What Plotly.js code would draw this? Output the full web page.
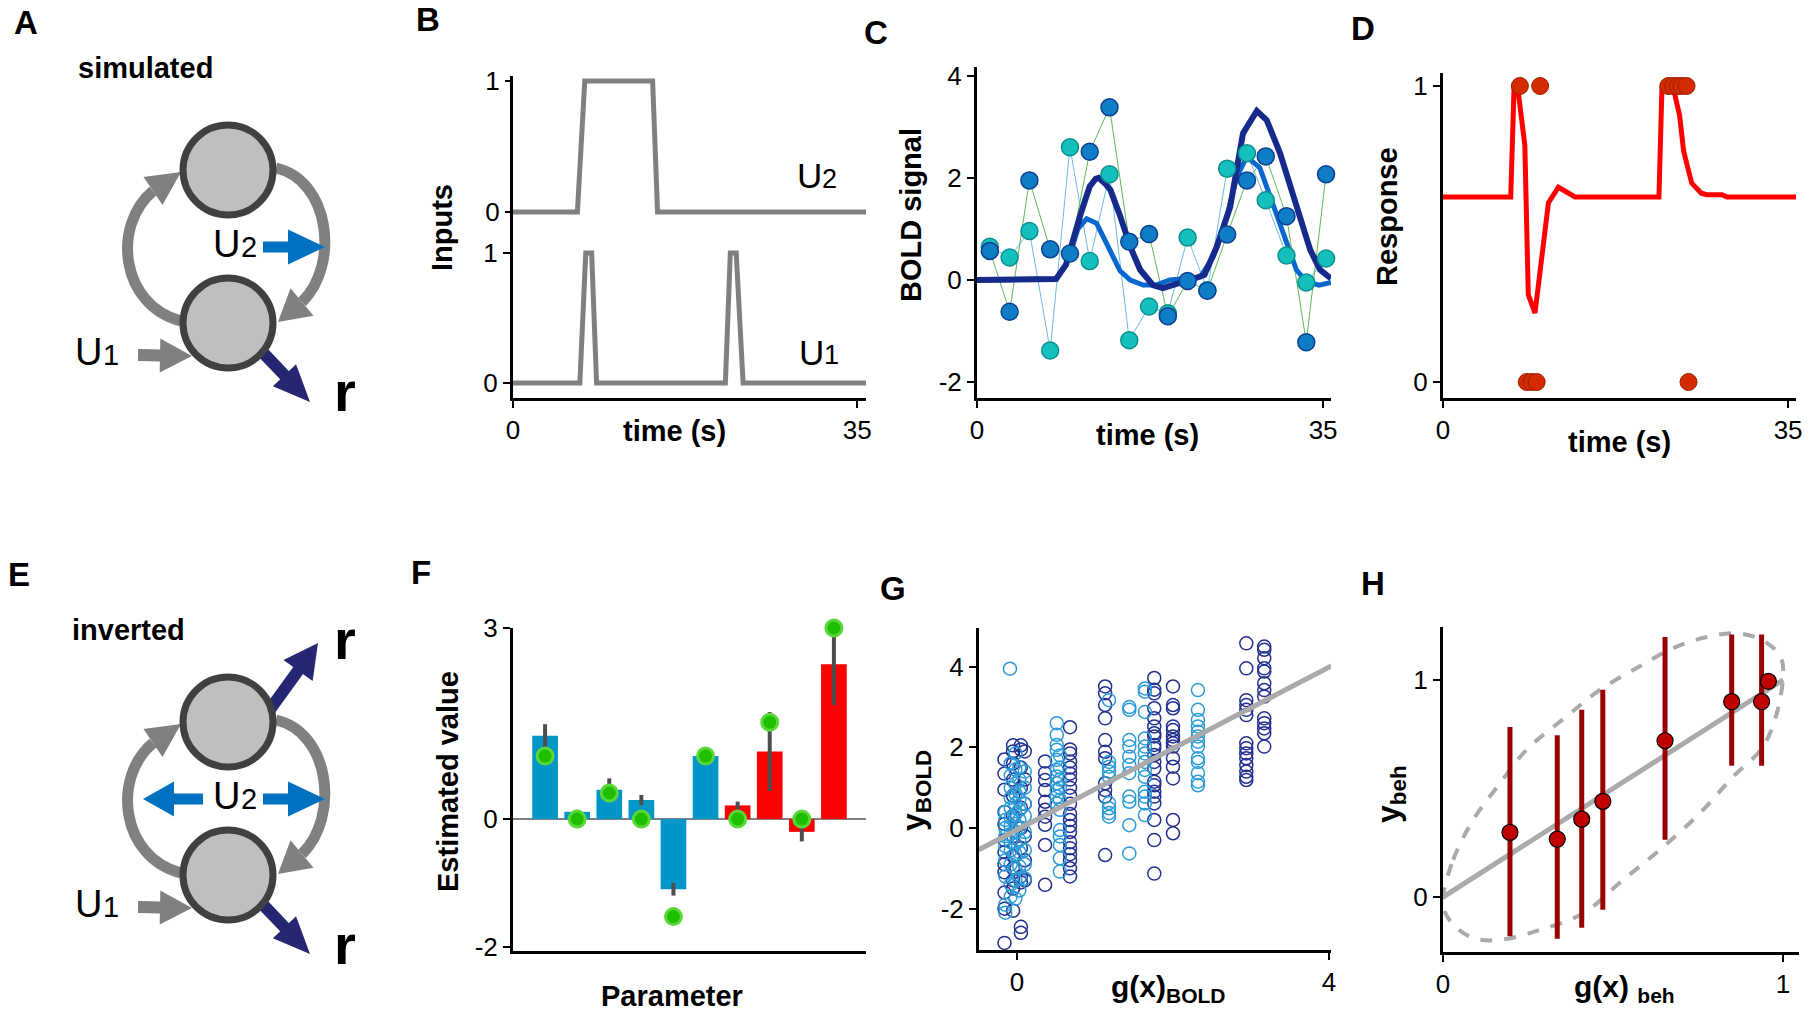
<!DOCTYPE html>
<html><head><meta charset="utf-8">
<script src="https://cdn.plot.ly/plotly-3.0.1.min.js"></script>
<style>html,body{margin:0;padding:0;background:#fff;}#chart{width:1814px;height:1011px;}</style>
</head><body><div id="chart"></div>
<script>
// ---------- DATA ----------
// Panel B: inputs
const bU2Time = [0, 6.55, 7.3, 14.2, 14.7, 35.9];
const bU2 = [0, 0, 1, 1, 0, 0];
const bU1Time = [0, 6.8, 7.4, 8.0, 8.5, 21.6, 22.1, 22.7, 23.4, 35.9];
const bU1 = [0, 0, 1, 1, 0, 0, 1, 1, 0, 0];

// Panel C: BOLD signal
const cTime = [1.3, 3.3, 5.3, 7.4, 9.4, 11.4, 13.4, 15.4, 17.4, 19.3, 21.3, 23.3, 25.3, 27.3, 29.2, 31.3, 33.3, 35.3];
const cTeal = [0.65, 0.44, 0.96, -1.38, 2.6, 0.37, 2.07, -1.18, -0.52, -0.65, 0.83, -0.2, 2.18, 2.48, 1.56, 0.48, -0.05, 0.42];
const cBlue = [0.57, -0.62, 1.95, 0.6, 0.52, 2.51, 3.38, 0.75, 0.9, -0.71, -0.02, -0.21, 0.89, 1.95, 2.42, 1.25, -1.22, 2.07];
const cNavyT = [0, 8, 9, 9.4, 10, 10.4, 11, 11.4, 12, 12.3, 13, 13.5, 14.5, 15.5, 16.5, 17.8, 18.8, 20, 21, 22, 23, 24.25, 25.6, 26.9, 28.3, 29.3, 30.65, 31.66, 32.67, 33.7, 34.7, 35.8];
const cNavyY = [0, 0.02, 0.3, 0.59, 1.0, 1.24, 1.6, 1.83, 1.98, 2.0, 1.88, 1.76, 1.24, 0.65, 0.2, -0.1, -0.16, -0.1, -0.02, 0.03, 0.1, 0.65, 1.43, 2.87, 3.31, 3.13, 2.48, 1.83, 1.18, 0.59, 0.2, 0.03];
const cLightT = [0, 8, 9, 9.4, 10.2, 11.1, 12.1, 13, 13.45, 14.46, 15.5, 16.8, 18.1, 19.5, 21.2, 22.6, 23.9, 25.26, 26.27, 27.28, 28.6, 29.3, 30.3, 31.3, 32.3, 33.3, 34.6, 35.8];
const cLightY = [0, 0.02, 0.3, 0.5, 1.0, 1.2, 1.11, 0.75, 0.54, 0.18, 0.0, -0.1, -0.1, 0.0, 0.03, 0.06, 0.46, 1.24, 2.02, 2.41, 2.2, 1.83, 1.24, 0.72, 0.2, -0.03, -0.1, -0.05];

// Panel D: behavioural response
const dLineT = [0, 6.87, 7.2, 7.6, 8.3, 8.65, 9.33, 10.69, 11.7, 13.39, 21.9, 22.2, 23.4, 24.0, 24.4, 25.22, 26.2, 26.74, 28.3, 28.8, 35.8];
const dLineY = [0.625, 0.625, 0.988, 0.988, 0.80, 0.295, 0.233, 0.605, 0.658, 0.625, 0.625, 0.988, 0.988, 0.90, 0.78, 0.672, 0.638, 0.633, 0.633, 0.625, 0.625];
const dRespT = [7.8, 9.85, 8.5, 9.0, 9.5, 22.85, 23.35, 23.8, 24.2, 24.7, 24.9];
const dRespY = [1, 1, 0, 0, 0, 1, 1, 1, 1, 1, 0];

// Panel F: parameter estimates
const fParam = [1, 2, 3, 4, 5, 6, 7, 8, 9, 10];
const fEst = [1.31, 0.115, 0.46, 0.30, -1.10, 0.99, 0.215, 1.06, -0.20, 2.43];
const fErr = [0.18, 0.03, 0.18, 0.08, 0.10, 0.02, 0.06, 0.62, 0.15, 0.64];
const fTrue = [0.99, 0, 0.41, 0, -1.53, 0.99, 0, 1.52, 0, 3.0];
const fNumBold = 6; // first six parameters belong to the BOLD model

// Panel G: BOLD predicted vs observed (columns of points)
const gNavyColX = [-0.16, -0.05, 0.05, 0.1, 0.36, 0.68, 1.13, 1.76, 2.0, 2.94, 3.17];
const gNavyColY = [
  [1.7, 1.35, 0.95, 0.4, 0.1, -0.3, -0.6, -0.9, -1.1, -1.6, -2.0, -2.85],
  [2.05, 1.9, 1.6, 1.2, 0.8, 0.3, -0.2, -0.7, -1.0, -1.3, -1.5, -2.05],
  [2.05, 1.95, 1.5, 1.0, 0.5, 0.0, -0.5, -1.2, -1.35, -2.45, -2.6],
  [1.9, 1.2, 0.6, -0.2, -0.8, -1.3],
  [1.65, 1.36, 1.19, 0.94, 0.65, 0.45, 0.28, 0.08, -0.42, -1.41],
  [2.5, 1.95, 1.85, 1.65, 1.5, 1.35, 1.2, 1.0, 0.8, 0.6, 0.35, 0.2, 0.05, -0.1, -0.35, -0.5, -0.65, -0.8, -1.0, -1.2],
  [3.51, 3.34, 3.05, 2.72, 2.18, 1.89, 1.73, 1.11, 0.94, 0.78, -0.67],
  [3.72, 3.43, 3.34, 2.97, 2.72, 2.52, 2.35, 2.27, 2.06, 1.98, 1.81, 1.64, 1.48, 1.15, 1.06, 0.90, 0.78, 0.61, 0.20, -0.30, -1.13],
  [3.51, 3.05, 2.97, 2.52, 2.43, 2.27, 2.18, 2.10, 2.02, 1.73, 1.52, 1.23, 0.20, -0.13],
  [4.58, 3.96, 3.17, 3.05, 2.93, 2.80, 2.10, 1.98, 1.85, 1.73, 1.56, 1.40, 1.27, 1.19],
  [4.50, 4.42, 4.21, 3.96, 3.88, 3.59, 3.42, 3.26, 2.72, 2.60, 2.47, 2.35, 2.02]
];
const gLightColX = [-0.15, -0.08, -0.02, 0.03, 0.1, -0.09, 0.51, 0.55, 1.18, 1.44, 1.64, 2.32];
const gLightColY = [
  [0.4, 0.2, 0.0, -0.2, -0.45, -0.8, -1.2, -1.9, -2.1],
  [1.6, 1.3, 1.0, 0.75, 0.5, 0.25, 0.05, -0.15, -0.35, -0.55, -0.9, -1.4, -1.7],
  [1.85, 1.45, 1.1, 0.85, 0.6, 0.35, 0.1, -0.1, -0.4, -0.65, -1.0, -1.3, -1.75],
  [1.5, 1.2, 0.9, 0.7, 0.45, 0.2, 0.0, -0.3, -0.6, -0.95, -1.25, -1.55],
  [1.4, 1.0, 0.6, 0.3, -0.1, -0.55, -0.9, -1.25],
  [3.95],
  [2.6, 2.31, 2.06, 1.94, 1.69, 1.44, 1.28, 1.11, 0.94, 0.78, 0.61],
  [1.8, 1.5, 1.2, 1.0, 0.7, 0.45, -0.05, -0.21, -0.42, -0.75, -1.08],
  [3.17, 1.64, 1.52, 1.40, 1.27, 0.62, 0.49, 0.37, 0.28],
  [3.0, 2.93, 2.18, 2.02, 1.77, 1.56, 1.36, 0.78, 0.65, 0.07, -0.63],
  [3.46, 3.38, 2.88, 2.22, 2.02, 1.85, 1.64, 1.44, 1.27, 0.90, 0.78, 0.61, 0.32],
  [3.42, 2.93, 2.68, 2.52, 2.39, 2.27, 2.14, 2.02, 1.73, 1.64, 1.36, 1.15, 1.06]
];
const gFitX = [-0.49, 4.03];
const gFitY = [-0.54, 4.02];

// Panel H: behaviour predicted vs observed
const hG = [0.197, 0.336, 0.408, 0.47, 0.653, 0.849, 0.937, 0.957];
const hY = [0.298, 0.267, 0.359, 0.441, 0.72, 0.9, 0.9, 0.994];
const hErrUp = [0.485, 0.478, 0.504, 0.514, 0.478, 0.31, 0.31, 0];
const hErrDown = [0.479, 0.459, 0.5, 0.499, 0.456, 0.295, 0.295, 0];
const hFitX = [0, 1];
const hFitY = [0, 1];
const hEllX = [0.0, 0.030, 0.089, 0.168, 0.246, 0.364, 0.462, 0.579, 0.677, 0.776, 0.874, 0.952, 0.996, 0.991, 0.942, 0.854, 0.756, 0.638, 0.530, 0.413, 0.285, 0.168, 0.089, 0.030, 0.003, 0.0];
const hEllY = [0.0, 0.172, 0.356, 0.525, 0.679, 0.833, 0.955, 1.063, 1.147, 1.198, 1.214, 1.171, 1.094, 0.909, 0.694, 0.556, 0.387, 0.218, 0.080, -0.074, -0.151, -0.197, -0.189, -0.127, -0.058, 0.0];

// tick labels (hyphen minus as in the original)
const tickB = ['0', '1'];
const tickTime = ['0', '35'];
const tickC = ['-2', '0', '2', '4'];
const tickF = ['-2', '0', '3'];
const tickG = ['-2', '0', '2', '4'];
const tickGx = ['0', '4'];
const tickUnit = ['0', '1'];

// ---------- LAYOUT HELPERS ----------
const W = 1814, H = 1011;
const FONT = 'Liberation Sans, Arial, Helvetica, sans-serif';
const PX = v => v / W, PY = v => 1 - v / H;
const xd = (a, b) => [PX(a), PX(b)];
const yd = (top, bottom) => [PY(bottom), PY(top)];

const axBase = {
  showline: true, linecolor: '#000', linewidth: 3, mirror: false,
  ticks: 'outside', ticklen: 7, tickwidth: 2, tickcolor: '#000',
  showgrid: false, zeroline: false, fixedrange: true,
  tickfont: {family: FONT, size: 26, color: '#000'}
};
const mk = o => Object.assign({}, axBase, o);

// expand columns
function expand(colX, colY) {
  const xs = [], ys = [];
  colX.forEach((x, i) => colY[i].forEach(y => { xs.push(x); ys.push(y); }));
  return [xs, ys];
}
const [gNavyX, gNavyY] = expand(gNavyColX, gNavyColY);
const [gLightX, gLightY] = expand(gLightColX, gLightColY);

// ---------- TRACES ----------
const GRAY = '#808080';
const traces = [
  // B
  {x: bU2Time, y: bU2, xaxis: 'x', yaxis: 'y2', mode: 'lines', line: {color: GRAY, width: 5}},
  {x: bU1Time, y: bU1, xaxis: 'x', yaxis: 'y', mode: 'lines', line: {color: GRAY, width: 5}},
  // C
  {x: cTime, y: cTeal, xaxis: 'x2', yaxis: 'y3', mode: 'lines', line: {color: '#6db9e8', width: 1}},
  {x: cTime, y: cBlue, xaxis: 'x2', yaxis: 'y3', mode: 'lines', line: {color: '#5fb85a', width: 1}},
  {x: cLightT, y: cLightY, xaxis: 'x2', yaxis: 'y3', mode: 'lines', line: {color: '#0767cf', width: 5}},
  {x: cNavyT, y: cNavyY, xaxis: 'x2', yaxis: 'y3', mode: 'lines', line: {color: '#162a8c', width: 6}},
  {x: cTime, y: cTeal, xaxis: 'x2', yaxis: 'y3', mode: 'markers', cliponaxis: false,
   marker: {size: 17, color: '#14c0bd', line: {color: '#0c8f8c', width: 1.5}}},
  {x: cTime, y: cBlue, xaxis: 'x2', yaxis: 'y3', mode: 'markers', cliponaxis: false,
   marker: {size: 17, color: '#0f7cc6', line: {color: '#0b3f90', width: 1.5}}},
  // D
  {x: dLineT, y: dLineY, xaxis: 'x3', yaxis: 'y4', mode: 'lines', line: {color: '#ff0000', width: 5}},
  {x: dRespT, y: dRespY, xaxis: 'x3', yaxis: 'y4', mode: 'markers', cliponaxis: false,
   marker: {size: 17, color: '#d42a00', line: {color: '#9a2000', width: 1}}},
  // F
  {type: 'bar', x: fParam.slice(0, fNumBold), y: fEst.slice(0, fNumBold), xaxis: 'x4', yaxis: 'y5', width: 0.8,
   marker: {color: '#0096c8', line: {width: 0}},
   error_y: {type: 'data', array: fErr.slice(0, fNumBold), color: '#4d4d4d', thickness: 4, width: 0}},
  {type: 'bar', x: fParam.slice(fNumBold), y: fEst.slice(fNumBold), xaxis: 'x4', yaxis: 'y5', width: 0.8,
   marker: {color: '#ff0000', line: {width: 0}},
   error_y: {type: 'data', array: fErr.slice(fNumBold), color: '#4d4d4d', thickness: 4, width: 0}},
  {x: fParam, y: fTrue, xaxis: 'x4', yaxis: 'y5', mode: 'markers', cliponaxis: false,
   marker: {size: 16, color: '#1fbf00', line: {color: '#5ad83a', width: 3}}},
  // G
  {x: gNavyX, y: gNavyY, xaxis: 'x5', yaxis: 'y6', mode: 'markers', cliponaxis: false,
   marker: {symbol: 'circle-open', size: 13, color: '#22308f', line: {width: 1.5}}},
  {x: gLightX, y: gLightY, xaxis: 'x5', yaxis: 'y6', mode: 'markers', cliponaxis: false,
   marker: {symbol: 'circle-open', size: 13, color: '#2b9bd8', line: {width: 1.5}}},
  {x: gFitX, y: gFitY, xaxis: 'x5', yaxis: 'y6', mode: 'lines', line: {color: '#aaaaaa', width: 5}},
  // H
  {x: hEllX, y: hEllY, xaxis: 'x6', yaxis: 'y7', mode: 'lines', line: {color: '#aaaaaa', width: 4, dash: 'dash', shape: 'spline', smoothing: 1}},
  {x: hFitX, y: hFitY, xaxis: 'x6', yaxis: 'y7', mode: 'lines', line: {color: '#aaaaaa', width: 5}},
  {x: hG, y: hY, xaxis: 'x6', yaxis: 'y7', mode: 'markers', cliponaxis: false,
   marker: {size: 16, color: '#c00000', line: {color: '#000', width: 1.2}},
   error_y: {type: 'data', symmetric: false, array: hErrUp, arrayminus: hErrDown, color: '#990000', thickness: 5, width: 0}}
];
traces.forEach(t => { t.hoverinfo = 'skip'; t.showlegend = false; });

// ---------- DIAGRAM SHAPES (panels A, E) ----------
function conv(s) {
  return s.replace(/(-?\d+\.?\d*),(-?\d+\.?\d*)/g, (m, a, b) => PX(+a) + ',' + PY(+b));
}
function pathShape(d, color, width) {
  return {type: 'path', xref: 'paper', yref: 'paper', path: conv(d), line: {color, width}, fillcolor: 'rgba(0,0,0,0)'};
}
function tri(tx, ty, bx, by, hw, color) {
  const dx = tx - bx, dy = ty - by, L = Math.hypot(dx, dy);
  const nx = -dy / L, ny = dx / L;
  const d = `M${tx},${ty} L${bx + nx * hw},${by + ny * hw} L${bx - nx * hw},${by - ny * hw} Z`;
  return {type: 'path', xref: 'paper', yref: 'paper', path: conv(d), line: {width: 0}, fillcolor: color};
}
function arrow(sx, sy, tx, ty, hl, hw, sw, color) {
  const dx = tx - sx, dy = ty - sy, L = Math.hypot(dx, dy);
  const ux = dx / L, uy = dy / L;
  const bx = tx - ux * hl, by = ty - uy * hl;
  return [
    {type: 'line', xref: 'paper', yref: 'paper', x0: PX(sx), y0: PY(sy), x1: PX(bx + ux * 2), y1: PY(by + uy * 2), line: {color, width: sw}},
    tri(tx, ty, bx, by, hw, color)
  ];
}
function circle(cx, cy, r) {
  return {type: 'circle', xref: 'paper', yref: 'paper', x0: PX(cx - r), x1: PX(cx + r), y0: PY(cy + r), y1: PY(cy - r),
          fillcolor: '#bfbfbf', line: {color: '#404040', width: 7}};
}
const BLUE = '#0070c0', NAVY = '#262673';
function diagram(dy, inverted) {
  let s = [];
  s.push(pathShape(`M181,${321 + dy} C120,${305 + dy} 112,${225 + dy} 153,${191 + dy}`, GRAY, 11));
  s.push(tri(181, 172 + dy, 153, 191 + dy, 17, GRAY));
  s.push(pathShape(`M276,${168 + dy} C330,${180 + dy} 340,${265 + dy} 302,${302 + dy}`, GRAY, 11));
  s.push(tri(278, 322 + dy, 302, 302 + dy, 18, GRAY));
  s = s.concat(arrow(138, 355 + dy, 192, 356 + dy, 32, 17, 12, GRAY));
  s = s.concat(arrow(263, 247 + dy, 325, 247 + dy, 37, 17.5, 11, BLUE));
  if (inverted) {
    s = s.concat(arrow(203, 247 + dy, 143, 247 + dy, 31, 17.5, 11, BLUE));
    s = s.concat(arrow(250, 185 + dy, 318, 91 + dy, 34, 18, 12, NAVY));
  }
  s = s.concat(arrow(250, 339 + dy, 310, 402 + dy, 37, 16, 12, NAVY));
  s.push(circle(228, 170 + dy, 45));
  s.push(circle(228, 323 + dy, 45));
  return s;
}
const shapes = diagram(0, false).concat(diagram(552, true));

// ---------- ANNOTATIONS ----------
function txt(x, y, text, size, extra, bold) {
  return Object.assign({xref: 'paper', yref: 'paper', x: PX(x), y: PY(y), xanchor: 'center', yanchor: 'middle',
    text, showarrow: false, font: {family: FONT, size, color: '#000', weight: bold ? 'bold' : 'normal'}}, extra || {});
}
const btxt = (x, y, text, size, extra) => txt(x, y, text, size, extra, true);
// "U" with a smaller digit sharing its baseline, as two separate texts
function ulabel(cx, cy, digit, big, small) {
  const total = 0.722 * big + 0.556 * small;
  const left = cx - total / 2;
  const base = cy + 0.3465 * big;
  return [
    txt(left + 0.361 * big, cy, 'U', big),
    txt(left + 0.722 * big + 0.278 * small, base - 0.3465 * small, String(digit), small)
  ];
}
const annotations = [
  // panel letters
  btxt(26, 22, 'A', 33), btxt(428, 20, 'B', 33), btxt(876, 32, 'C', 33), btxt(1363, 28, 'D', 33),
  btxt(19, 574, 'E', 33), btxt(421, 572, 'F', 33), btxt(893, 588, 'G', 33), btxt(1373, 583, 'H', 33),
  // A
  btxt(145, 68, 'simulated', 29),
  ...ulabel(235, 244, 2, 38, 29), ...ulabel(97, 352, 1, 38, 29),
  btxt(345, 391, 'r', 56),
  // E
  btxt(128, 630, 'inverted', 29),
  ...ulabel(235, 796, 2, 38, 29), ...ulabel(97, 904, 1, 38, 29),
  btxt(345, 639, 'r', 56), btxt(345, 944, 'r', 56),
  // B
  ...ulabel(817, 176, 2, 35, 27), ...ulabel(819, 352, 1, 35, 27),
  btxt(442, 228, 'Inputs', 29, {textangle: -90}),
  btxt(674, 431, 'time (s)', 29),
  // C
  btxt(911, 215, 'BOLD signal', 29, {textangle: -90}),
  btxt(1147, 435, 'time (s)', 29),
  // D
  btxt(1387, 217, 'Response', 29, {textangle: -90}),
  btxt(1619, 442, 'time (s)', 29),
  // F
  btxt(448, 782, 'Estimated value', 29, {textangle: -90}),
  btxt(672, 996, 'Parameter', 29),
  // G
  btxt(915, 790, 'y<sub>BOLD</sub>', 32, {textangle: -90}),
  btxt(1168, 988, 'g(x)<sub>BOLD</sub>', 30),
  // H
  btxt(1390, 794, 'y<sub>beh</sub>', 32, {textangle: -90}),
  btxt(1624, 988, 'g(x) <sub>beh</sub>', 30)
];

// ---------- LAYOUT ----------
const layout = {
  width: W, height: H, margin: {l: 0, r: 0, t: 0, b: 0},
  paper_bgcolor: '#fff', plot_bgcolor: 'rgba(0,0,0,0)', showlegend: false,
  font: {family: FONT, color: '#000'},
  // B
  xaxis: mk({domain: xd(513, 866), anchor: 'y', range: [0, 35.9], tickvals: [0, 35], ticktext: tickTime}),
  yaxis: mk({domain: yd(76, 398), anchor: 'x', range: [-0.1154, 2.3615], tickvals: [0, 1], ticktext: tickB}),
  yaxis2: mk({domain: yd(76, 398), anchor: 'x', overlaying: 'y', side: 'left', showline: false, range: [-1.42, 1.038], tickvals: [0, 1], ticktext: tickB}),
  // C
  xaxis2: mk({domain: xd(977, 1331), anchor: 'y3', range: [0, 35.8], tickvals: [0, 35], ticktext: tickTime}),
  yaxis3: mk({domain: yd(67, 398), anchor: 'x2', range: [-2.31, 4.17], tickvals: [-2, 0, 2, 4], ticktext: tickC}),
  // D
  xaxis3: mk({domain: xd(1443, 1796), anchor: 'y4', range: [0, 35.8], tickvals: [0, 35], ticktext: tickTime}),
  yaxis4: mk({domain: yd(73, 398), anchor: 'x3', range: [-0.054, 1.044], tickvals: [0, 1], ticktext: tickUnit}),
  // F
  xaxis4: mk({domain: xd(513, 866), anchor: 'y5', range: [0, 11], ticks: '', showticklabels: false}),
  yaxis5: mk({domain: yd(628, 951), anchor: 'x4', range: [-2.07, 3.0], tickvals: [-2, 0, 3], ticktext: tickF,
              zeroline: true, zerolinecolor: '#808080', zerolinewidth: 2}),
  // G
  xaxis5: mk({domain: xd(979, 1331), anchor: 'y6', range: [-0.487, 4.026], tickvals: [0, 4], ticktext: tickGx}),
  yaxis6: mk({domain: yd(628, 950), anchor: 'x5', range: [-3.025, 4.96], tickvals: [-2, 0, 2, 4], ticktext: tickG}),
  // H
  xaxis6: mk({domain: xd(1443, 1799), anchor: 'y7', range: [0, 1.047], tickvals: [0, 1], ticktext: tickUnit}),
  yaxis7: mk({domain: yd(627, 952), anchor: 'x6', range: [-0.253, 1.244], tickvals: [0, 1], ticktext: tickUnit}),
  shapes, annotations
};

Plotly.newPlot('chart', traces, layout, {displayModeBar: false, staticPlot: true});
</script></body></html>
